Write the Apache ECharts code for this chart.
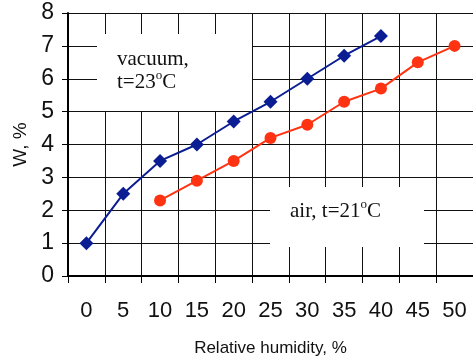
<!DOCTYPE html>
<html>
<head>
<meta charset="utf-8">
<script src="https://cdn.jsdelivr.net/npm/echarts@6/dist/echarts.min.js"></script>
<style>
html,body{margin:0;padding:0;background:#fff;}
#c{width:473px;height:363px;}
</style>
</head>
<body>
<div id="c"></div>
<script>
var categories = ['0','5','10','15','20','25','30','35','40','45','50'];
var vacuumValues = [1, 2.5, 3.5, 4, 4.7, 5.3, 6, 6.7, 7.3, null, null];
var airValues = [null, null, 2.3, 2.9, 3.5, 4.2, 4.6, 5.3, 5.7, 6.5, 7];
var yTicks = { min: 0, max: 8, interval: 1 };
var xName = 'Relative humidity, %';
var yName = 'W, %';

var chart = echarts.init(document.getElementById('c'), null, {renderer: 'canvas'});
var sans = 'Liberation Sans';
var serif = 'Liberation Serif';
var gridColor = '#111';

function note(x, y, w, h, lines) {
  var children = [{
    type: 'rect', z: 100,
    shape: {x: x, y: y, width: w, height: h},
    style: {fill: '#ffffff', stroke: null}
  }];
  return {type: 'group', z: 100, children: children.concat(lines)};
}
function txt(x, y, t) {
  return {
    type: 'text', x: x, y: y, z: 101,
    style: {
      text: t, fill: '#111', fontSize: 21, fontFamily: serif,
      verticalAlign: 'middle', align: 'left',
      rich: {
        n: {fontSize: 21, fontFamily: serif, fill: '#111'},
        s: {fontSize: 13, fontFamily: serif, fill: '#111', padding: [0,0,13,0]}
      }
    }
  };
}

chart.setOption({
  animation: false,
  grid: {left: 68, right: -6, top: 13, bottom: 87},
  xAxis: {
    type: 'category',
    data: categories,
    boundaryGap: true,
    name: xName,
    nameLocation: 'middle',
    nameGap: 64,
    nameTextStyle: {fontFamily: sans, fontSize: 17, color: '#111'},
    axisLine: {show: true, lineStyle: {color: '#000', width: 2}},
    axisTick: {show: true, interval: 0, length: 7, lineStyle: {color: '#000', width: 1}},
    axisLabel: {interval: 0, margin: 24, fontFamily: sans, fontSize: 22, color: '#111'},
    splitLine: {show: true, interval: 0, lineStyle: {color: gridColor, width: 1, type: 'solid', opacity: 1}}
  },
  yAxis: {
    type: 'value',
    min: yTicks.min, max: yTicks.max, interval: yTicks.interval,
    name: yName,
    nameLocation: 'middle',
    nameGap: 32,
    nameRotate: 90,
    nameTextStyle: {fontFamily: sans, fontSize: 19, color: '#111'},
    axisLine: {show: true, lineStyle: {color: '#000', width: 2}},
    axisTick: {show: true, length: 6, lineStyle: {color: '#000', width: 1}},
    axisLabel: {margin: 14, fontFamily: sans, fontSize: 23, color: '#111'},
    splitLine: {show: true, lineStyle: {color: gridColor, width: 1, type: 'solid', opacity: 1}}
  },
  series: [
    {
      name: 'vacuum', type: 'line', data: vacuumValues,
      symbol: 'diamond', symbolSize: 14,
      itemStyle: {color: '#0b1d92'},
      lineStyle: {color: '#0b1d92', width: 2},
      connectNulls: false, z: 5
    },
    {
      name: 'air', type: 'line', data: airValues,
      symbol: 'circle', symbolSize: 12,
      itemStyle: {color: '#ff3311'},
      lineStyle: {color: '#ff3311', width: 2},
      connectNulls: false, z: 5
    }
  ],
  graphic: [
    note(97, 34, 155, 77, [
      txt(117, 59.5, 'vacuum,'),
      txt(117, 82.5, '{n|t=23}{s|o}{n|C}')
    ]),
    note(270, 187, 154, 60, [
      txt(290, 211.5, '{n|air, t=21}{s|o}{n|C}')
    ])
  ]
});
</script>
</body>
</html>
